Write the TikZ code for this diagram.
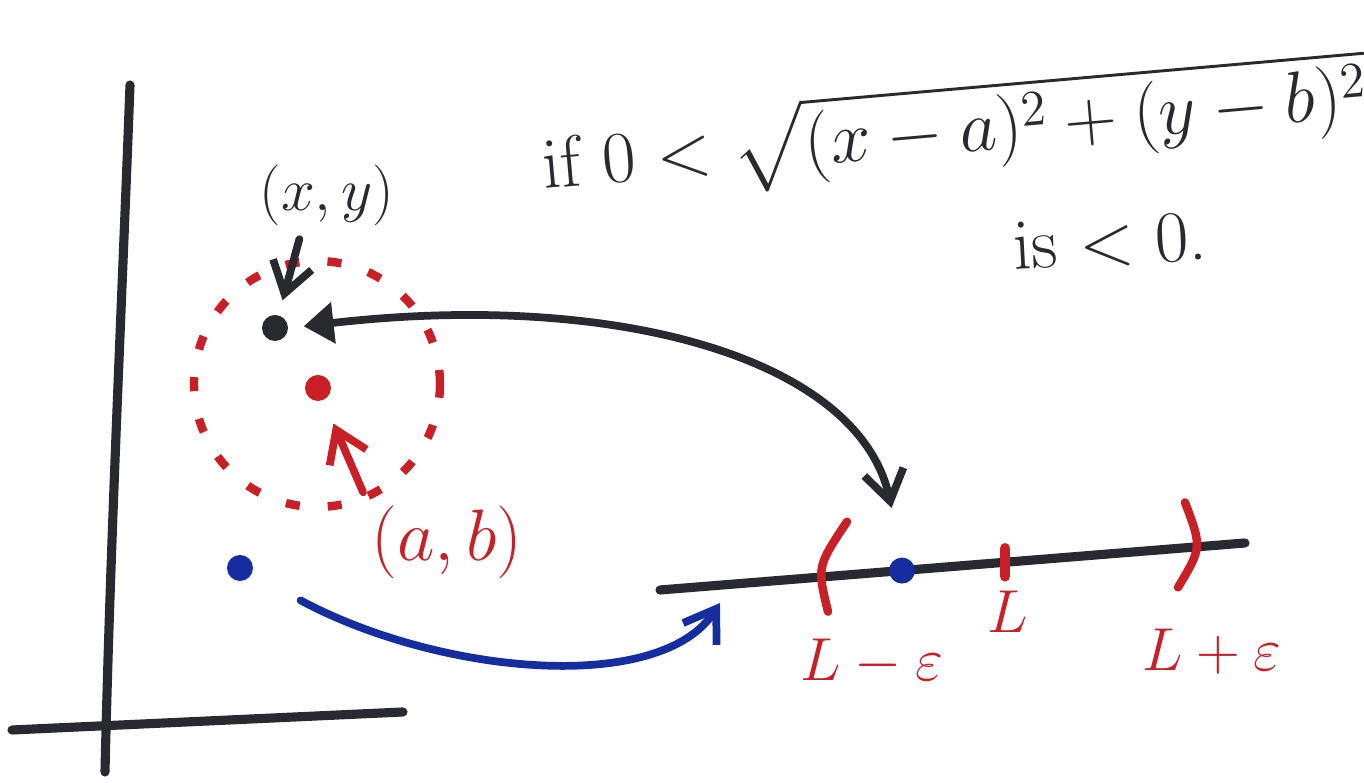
\documentclass[tikz,border=0pt]{standalone}
\usepackage{amsmath,amssymb}
\usepackage{tikz}
\usetikzlibrary{arrows.meta,positioning,calc}
\definecolor{ink}{RGB}{40,42,48}
\definecolor{pen}{RGB}{200,32,38}
\definecolor{blu}{RGB}{22,45,160}
\tikzset{
  axis/.style={draw=ink,line width=2.6pt,line cap=round},
  dotn/.style={circle,fill=#1,inner sep=0pt,minimum size=2.6mm},
  lbl/.style={font=\huge,text=#1,inner sep=1pt},
  arr/.style={-{Straight Barb[length=3mm,width=4mm]},line width=2.2pt,line cap=round},
  nbhd/.style={draw=pen,circle,line width=2.4pt,dash pattern=on 4pt off 8pt,minimum size=24.6mm,inner sep=0pt}
}
\begin{document}
\begin{tikzpicture}
\useasboundingbox (0,0) rectangle (13.64,-7.83);
% axes
\coordinate (ytop) at (1.30,-0.85);
\coordinate (ybot) at (1.05,-7.72);
\coordinate (xlft) at (0.12,-7.30);
\coordinate (xrgt) at (4.03,-7.12);
\draw[axis] (ytop) .. controls (1.22,-3.0) and (1.10,-5.5) .. (ybot);
\draw[axis] (xlft) -- (xrgt);
% points in the plane
\node[nbhd] (disc) at (3.17,-3.84) {};
\node[dotn=ink] (xy) at (2.75,-3.28) {};
\node[dotn=pen] (ab) at (3.18,-3.88) {};
\node[dotn=blu] (bdot) at (2.40,-5.68) {};
\node[lbl=ink,font=\LARGE] (xylab) at (3.27,-1.95) {$(x,y)$};
\node[lbl=pen] (ablab) at (4.47,-5.42) {$(a,b)$};
\draw[arr,ink,shorten >=1.5mm,shorten <=1mm] (xylab.south) ++(-0.25,0) coordinate (xyfrom) -- (xy);
\draw[arr,pen,shorten >=2.5mm,shorten <=1mm] (ablab.north west) -- (ab);
% number line
\coordinate (nlA) at (6.60,-5.90);
\coordinate (nlB) at (12.45,-5.43);
\draw[axis] (nlA) -- (nlB);
\node[dotn=blu] (fx) at (9.02,-5.706) {};
\coordinate (lo) at (8.25,-5.767);
\coordinate (mid) at (10.05,-5.623);
\coordinate (hi) at (11.90,-5.474);
\draw[pen,line width=2.4pt,line cap=round] ($(lo)+(0.22,0.55)$) .. controls ($(lo)+(-0.08,0.1)$) .. ($(lo)+(0.03,-0.35)$);
\draw[pen,line width=2.4pt,line cap=round] ($(hi)+(-0.05,0.45)$) .. controls ($(hi)+(0.12,0.0)$) .. ($(hi)+(-0.12,-0.4)$);
\draw[pen,line width=3pt,line cap=round] ($(mid)+(0,0.14)$) -- ($(mid)+(0,-0.14)$);
\node[lbl=pen,font=\LARGE] (lolab) at (8.72,-6.62) {$L-\varepsilon$};
\node[lbl=pen,font=\LARGE] (midlab) at (10.08,-6.12) {$L$};
\node[lbl=pen,font=\LARGE] (hilab) at (12.12,-6.52) {$L+\varepsilon$};
% mapping arrows
\draw[{Triangle[length=3mm,width=4mm]}-{Straight Barb[length=3mm,width=4mm]},ink,line width=2.2pt,shorten <=1.5mm,shorten >=5mm]
  (xy.east) .. controls (6.2,-2.9) and (8.6,-3.6) .. (fx.north);
\coordinate (bend) at (7.20,-6.03);
\draw[arr,blu,shorten <=5.5mm] (bdot) .. controls (4.4,-6.75) and (6.6,-6.95) .. (bend);
% condition
\node[lbl=ink,rotate=5] (cond) at (9.55,-1.30) {if $0<\sqrt{(x-a)^2+(y-b)^2}$};
\node[lbl=ink,rotate=3] (isl) at (11.10,-2.42) {is $<0$.};
\end{tikzpicture}
\end{document}
